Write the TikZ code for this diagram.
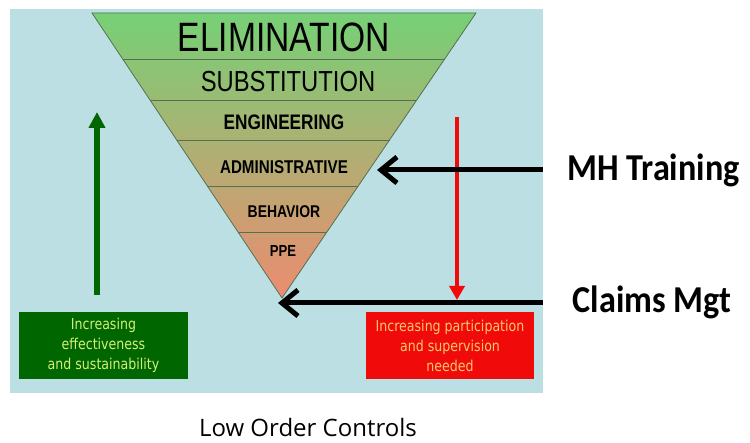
\documentclass[tikz,border=0pt]{standalone}
\usepackage{fontspec}
\usetikzlibrary{arrows.meta,calc}
\setmainfont{Liberation Sans}
\newfontfamily\bandfont[FakeStretch=0.82]{Liberation Sans}
\newfontfamily\boxfont[FakeStretch=0.84]{DejaVu Sans}
\newfontfamily\sidefont[FakeStretch=0.9]{Carlito}
\newfontfamily\capfont{Open Sans}

\definecolor{panelblue}{RGB}{187,223,227}
\definecolor{bandtop}{RGB}{118,208,118}
\definecolor{bandmid}{RGB}{198,184,110}
\definecolor{bandbot}{RGB}{236,140,112}
\definecolor{bandline}{RGB}{84,112,84}
\definecolor{effgreen}{RGB}{0,102,0}
\definecolor{efftext}{RGB}{210,240,120}
\definecolor{supred}{RGB}{240,10,10}
\definecolor{suptext}{RGB}{250,200,110}

\tikzset{
  band/.style={inner sep=0pt, text=black},
  notebox/.style={minimum width=169pt, minimum height=67pt, inner sep=0pt,
    align=center, font=\boxfont\fontsize{15}{20}\selectfont},
  sidelabel/.style={inner sep=0pt, font=\sidefont\bfseries\fontsize{38}{40}\selectfont},
  pointer/.style={line width=5pt, -{Straight Barb[length=16pt, width=26pt]}},
}

\begin{document}
\begin{tikzpicture}[x=1pt, y=-1pt]
  \useasboundingbox (0,0) rectangle (750,443);
  \fill[panelblue] (10,9) rectangle (543,393);

  % the inverted pyramid
  \coordinate (tl) at (92,13);
  \coordinate (tr) at (476,13);
  \coordinate (ap) at (282,298);
  \shade[top color=bandtop, middle color=bandmid, bottom color=bandbot]
    (tl) -- (tr) -- (ap) -- cycle;
  \foreach \f in {0.1614, 0.3053, 0.4456, 0.607, 0.7684}
    \draw[bandline, line width=0.8pt] ($(tl)!\f!(ap)$) -- ($(tr)!\f!(ap)$);
  \draw[bandline, line width=0.8pt] (tl) -- (tr) -- (ap) -- cycle;

  \node[band, font=\bandfont\fontsize{41}{41}\selectfont] (elim) at (284,37.5) {ELIMINATION};
  \node[band, font=\bandfont\fontsize{29}{29}\selectfont] (subst) at (288,82) {SUBSTITUTION};
  \node[band, font=\bandfont\bfseries\fontsize{21}{21}\selectfont] (engin) at (284,122.5) {ENGINEERING};
  \node[band, font=\bandfont\bfseries\fontsize{18.5}{18.5}\selectfont] (admin) at (284,167.5) {ADMINISTRATIVE};
  \node[band, font=\bandfont\bfseries\fontsize{17}{17}\selectfont] (behav) at (284,212) {BEHAVIOR};
  \node[band, font=\bandfont\bfseries\fontsize{16}{16}\selectfont] (ppe) at (283,251) {PPE};

  % side arrows and boxes
  \coordinate (gbot) at (97,295);
  \coordinate (gtop) at (97,112);
  \draw[effgreen, line width=5.5pt, -{Triangle[length=16pt, width=16pt]}] (gbot) -- (gtop);
  \coordinate (rtop) at (457,117);
  \coordinate (rbot) at (457,300);
  \draw[supred, line width=4pt, -{Triangle[length=14pt, width=15pt]}] (rtop) -- (rbot);

  \node[notebox, fill=effgreen, text=efftext] (effbox) at (103.5,345.5)
    {Increasing\\effectiveness\\and sustainability};
  \node[notebox, fill=supred, text=suptext, minimum width=168pt] (supbox) at (450,346)
    {Increasing participation\\and supervision\\needed};

  % training and claims
  \node[sidelabel] (mh) at (653.5,170) {MH Training};
  \node[sidelabel] (claims) at (652,302) {Claims Mgt};
  \coordinate (mhend) at (543,170);
  \coordinate (admtip) at (377,170);
  \coordinate (clend) at (543,303);
  \coordinate (aptip) at (278,303);
  \draw[pointer] (mhend) -- (admtip);
  \draw[pointer] (clend) -- (aptip);

  \node[inner sep=0pt, font=\capfont\fontsize{24}{24}\selectfont] (caption) at (308,428) {Low Order Controls};
\end{tikzpicture}
\end{document}
